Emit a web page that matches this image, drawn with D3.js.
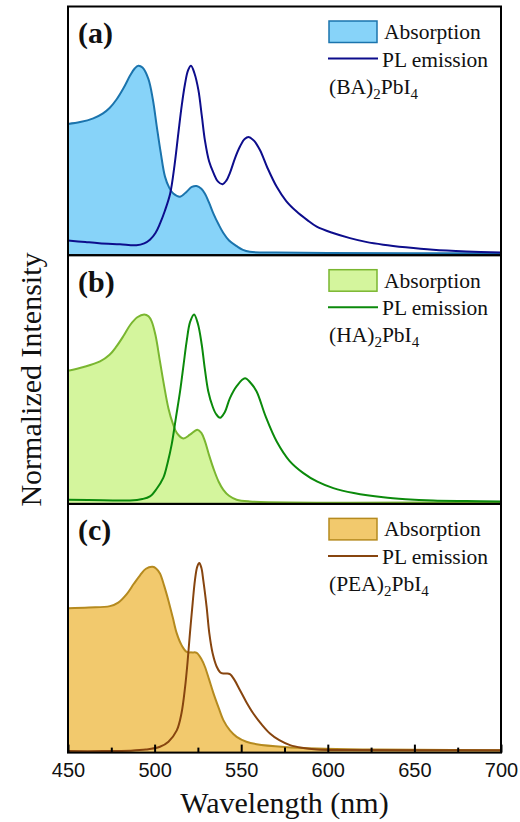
<!DOCTYPE html>
<html>
<head>
<meta charset="utf-8">
<script src="https://cdn.jsdelivr.net/npm/d3@7"></script>
<style>
  html, body { margin: 0; padding: 0; background: #fff; }
  svg { display: block; }
</style>
</head>
<body>
<svg id="chart" width="520" height="822"></svg>
<script>
// ---------------- DATA ----------------
const xTicks = [450, 500, 550, 600, 650, 700];
const xMinorTicks = [475, 525, 575, 625, 675];
const panelLabels = ["(a)", "(b)", "(c)"];
const compounds = [["(BA)", "2", "PbI", "4"], ["(HA)", "2", "PbI", "4"], ["(PEA)", "2", "PbI", "4"]];
const legendNames = ["Absorption", "PL emission"];

const absA = [[450,0.69],[457,0.70],[464.6,0.72],[470,0.745],[474,0.775],[478,0.82],[482,0.88],[486,0.95],[488.5,0.985],[490.6,1.0],[493,0.99],[496.4,0.93],[499,0.82],[501.2,0.68],[503.5,0.54],[506,0.41],[508.5,0.35],[510.8,0.32],[514.7,0.303],[518.5,0.33],[521.5,0.355],[524.3,0.36],[527,0.345],[529,0.32],[531.5,0.27],[533.9,0.215],[537,0.155],[539.7,0.11],[543,0.07],[547.4,0.04],[551,0.02],[555,0.01],[570,0.006],[600,0.004],[700,0.002]];
const plA = [[450,0.07],[460,0.062],[468,0.056],[480,0.05],[489.5,0.045],[494,0.055],[497.3,0.074],[500.5,0.11],[503.1,0.16],[506,0.23],[509,0.32],[511.5,0.47],[513.7,0.64],[515.7,0.79],[517.5,0.9],[519.3,0.975],[521,1.0],[523,0.96],[525.3,0.87],[527.3,0.73],[529.1,0.6],[531.5,0.49],[534,0.43],[536.5,0.385],[539.3,0.37],[541.5,0.39],[543.5,0.43],[546.5,0.51],[549.3,0.57],[552,0.61],[554.5,0.62],[557.5,0.6],[560.9,0.55],[565,0.46],[570.5,0.356],[576,0.28],[582,0.224],[588,0.18],[593.6,0.144],[603,0.11],[612.8,0.083],[622,0.063],[632,0.048],[645,0.034],[660.8,0.021],[680,0.012],[700,0.006]];
const absB = [[450,0.7],[459,0.72],[468.5,0.75],[474,0.785],[478,0.83],[482,0.885],[486,0.945],[490,0.985],[494,1.0],[496.5,0.99],[498.3,0.963],[500.5,0.89],[503.1,0.75],[505.5,0.62],[508,0.5],[510.5,0.42],[512.8,0.37],[516.6,0.34],[520.4,0.36],[524.7,0.387],[527,0.37],[529.1,0.325],[531.5,0.25],[534,0.18],[537,0.11],[539.7,0.067],[543,0.035],[547.4,0.014],[555,0.005],[700,0.002]];
const plB = [[450,0.014],[470,0.012],[485.8,0.01],[493,0.018],[497.3,0.032],[501,0.07],[505,0.13],[507.5,0.21],[509.9,0.31],[512.3,0.45],[514.7,0.59],[516.7,0.73],[518.5,0.856],[520.5,0.96],[522.8,1.0],[525,0.95],[527.2,0.84],[529,0.71],[531,0.59],[533.5,0.51],[535.5,0.47],[537.8,0.45],[540.5,0.48],[543.5,0.555],[547.5,0.62],[552.2,0.66],[555.5,0.635],[558.9,0.59],[564,0.46],[570.5,0.324],[578,0.22],[585.9,0.156],[594,0.11],[603.2,0.076],[615,0.05],[632,0.027],[645,0.017],[660.8,0.01],[680,0.007],[700,0.005]];
const absC = [[450,0.76],[462,0.764],[474.2,0.771],[479,0.79],[483.9,0.835],[488,0.89],[491.6,0.935],[495,0.97],[498.9,0.98],[501,0.97],[503.1,0.945],[505.5,0.88],[508,0.8],[510.5,0.71],[512.8,0.626],[515.5,0.565],[518.5,0.528],[521.5,0.525],[524.3,0.523],[527,0.49],[529,0.45],[531.5,0.38],[533.9,0.31],[537,0.23],[539.7,0.165],[543.5,0.11],[547.4,0.076],[553,0.05],[558.9,0.037],[575,0.022],[593.6,0.014],[620,0.009],[650,0.007],[700,0.005]];
const plC = [[450,0.0],[470,0.0],[485.8,0.002],[495,0.008],[503.1,0.023],[508,0.05],[512.8,0.11],[515.5,0.2],[517.6,0.34],[519,0.47],[520.4,0.626],[522,0.79],[523.3,0.91],[524.6,0.98],[525.8,1.0],[527,0.975],[528.1,0.91],[530,0.77],[531.6,0.626],[533.5,0.52],[535.8,0.45],[537.8,0.42],[539.7,0.413],[541.5,0.413],[543.5,0.41],[546,0.38],[549.3,0.324],[553,0.26],[557,0.2],[562,0.14],[566.6,0.094],[572,0.058],[578.2,0.032],[585,0.018],[593.6,0.009],[610,0.006],[700,0.004]];

const absSeries = [absA, absB, absC];
const plSeries = [plA, plB, plC];
const absFill = ["#87d3f9", "#d4f59d", "#f2c96d"];
const absStroke = ["#1b74ad", "#7ab630", "#b58a1f"];
const plStroke = ["#0d0d8c", "#0b8a0b", "#87450f"];

// ---------------- LAYOUT ----------------
const svg = d3.select("#chart");
const left = 68, right = 501;
const top0 = 6.5, panelH = 248.7;
const serif = "'Times New Roman', 'Liberation Serif', serif";
const sans = "Arial, 'Liberation Sans', sans-serif";

const x = d3.scaleLinear().domain([450, 700]).range([left, right]);
const curve = d3.curveCatmullRom.alpha(0.5);

for (let p = 0; p < 3; p++) {
  const pt = top0 + p * panelH;
  const pb = pt + panelH;
  const y = d3.scaleLinear().domain([-1.5 / 188, (panelH - 1.5) / 188]).range([pb, pt]);
  const g = svg.append("g");
  const clipId = "clip" + p;
  svg.append("clipPath").attr("id", clipId)
    .append("rect").attr("x", left).attr("y", pt).attr("width", right - left).attr("height", panelH);
  const cg = g.append("g").attr("clip-path", `url(#${clipId})`);

  const area = d3.area().x(d => x(d[0])).y0(pb + 2).y1(d => y(d[1])).curve(curve);
  const line = d3.line().x(d => x(d[0])).y(d => y(d[1])).curve(curve);

  cg.append("path").datum(absSeries[p]).attr("d", area).attr("fill", absFill[p]);
  cg.append("path").datum(absSeries[p]).attr("d", line).attr("fill", "none")
    .attr("stroke", absStroke[p]).attr("stroke-width", 2);
  cg.append("path").datum(plSeries[p]).attr("d", line).attr("fill", "none")
    .attr("stroke", plStroke[p]).attr("stroke-width", 2);

  // frame
  g.append("rect").attr("x", left).attr("y", pt).attr("width", right - left).attr("height", panelH)
    .attr("fill", "none").attr("stroke", "#000").attr("stroke-width", 2);

  // panel label
  g.append("text").attr("x", 78).attr("y", pt + 36.5).attr("font-family", serif)
    .attr("font-weight", "bold").attr("font-size", 30).attr("fill", "#111").text(panelLabels[p]);

  // legend
  g.append("rect").attr("x", 329).attr("y", pt + 14.5).attr("width", 48).attr("height", 21.5)
    .attr("fill", absFill[p]).attr("stroke", absStroke[p]).attr("stroke-width", 1.5);
  g.append("text").attr("x", 384).attr("y", pt + 32.5).attr("font-family", serif)
    .attr("font-size", 21.5).attr("fill", "#111").text(legendNames[0]);
  g.append("line").attr("x1", 328).attr("x2", 378).attr("y1", pt + 52).attr("y2", pt + 52)
    .attr("stroke", plStroke[p]).attr("stroke-width", 2);
  g.append("text").attr("x", 382).attr("y", pt + 60).attr("font-family", serif)
    .attr("font-size", 21.5).attr("fill", "#111").text(legendNames[1]);
  const ct = g.append("text").attr("x", 329).attr("y", pt + 87).attr("font-family", serif)
    .attr("font-size", 21.5).attr("fill", "#111");
  const c = compounds[p];
  ct.append("tspan").text(c[0]);
  ct.append("tspan").attr("dy", 5).attr("font-size", 15).text(c[1]);
  ct.append("tspan").attr("dy", -5).text(c[2]);
  ct.append("tspan").attr("dy", 5).attr("font-size", 15).text(c[3]);
}

// bottom axis (panel c)
const bottom = top0 + 3 * panelH;
const axis = d3.axisBottom(x).tickValues(xTicks).tickSizeInner(-8).tickSizeOuter(0);
const ax = svg.append("g").attr("transform", `translate(0,${bottom})`).call(axis);
ax.select(".domain").remove();
ax.selectAll(".tick line").attr("stroke", "#000").attr("stroke-width", 2);
ax.selectAll(".tick text").attr("y", 24).attr("dy", 0).attr("font-family", sans)
  .attr("font-size", 20).attr("fill", "#111");
const minorAxis = d3.axisBottom(x).tickValues(xMinorTicks).tickSizeInner(-5).tickSizeOuter(0).tickFormat("");
const mx = svg.append("g").attr("transform", `translate(0,${bottom})`).call(minorAxis);
mx.select(".domain").remove();
mx.selectAll(".tick line").attr("stroke", "#000").attr("stroke-width", 2);

// axis titles
svg.append("text").attr("x", (left + right) / 2).attr("y", 813).attr("text-anchor", "middle")
  .attr("font-family", serif).attr("font-size", 30).attr("fill", "#111").text("Wavelength (nm)");
svg.append("text").attr("transform", `translate(41,${(top0 + bottom) / 2}) rotate(-90)`)
  .attr("text-anchor", "middle").attr("font-family", serif).attr("font-size", 30).attr("fill", "#111")
  .text("Normalized Intensity");
</script>
</body>
</html>
